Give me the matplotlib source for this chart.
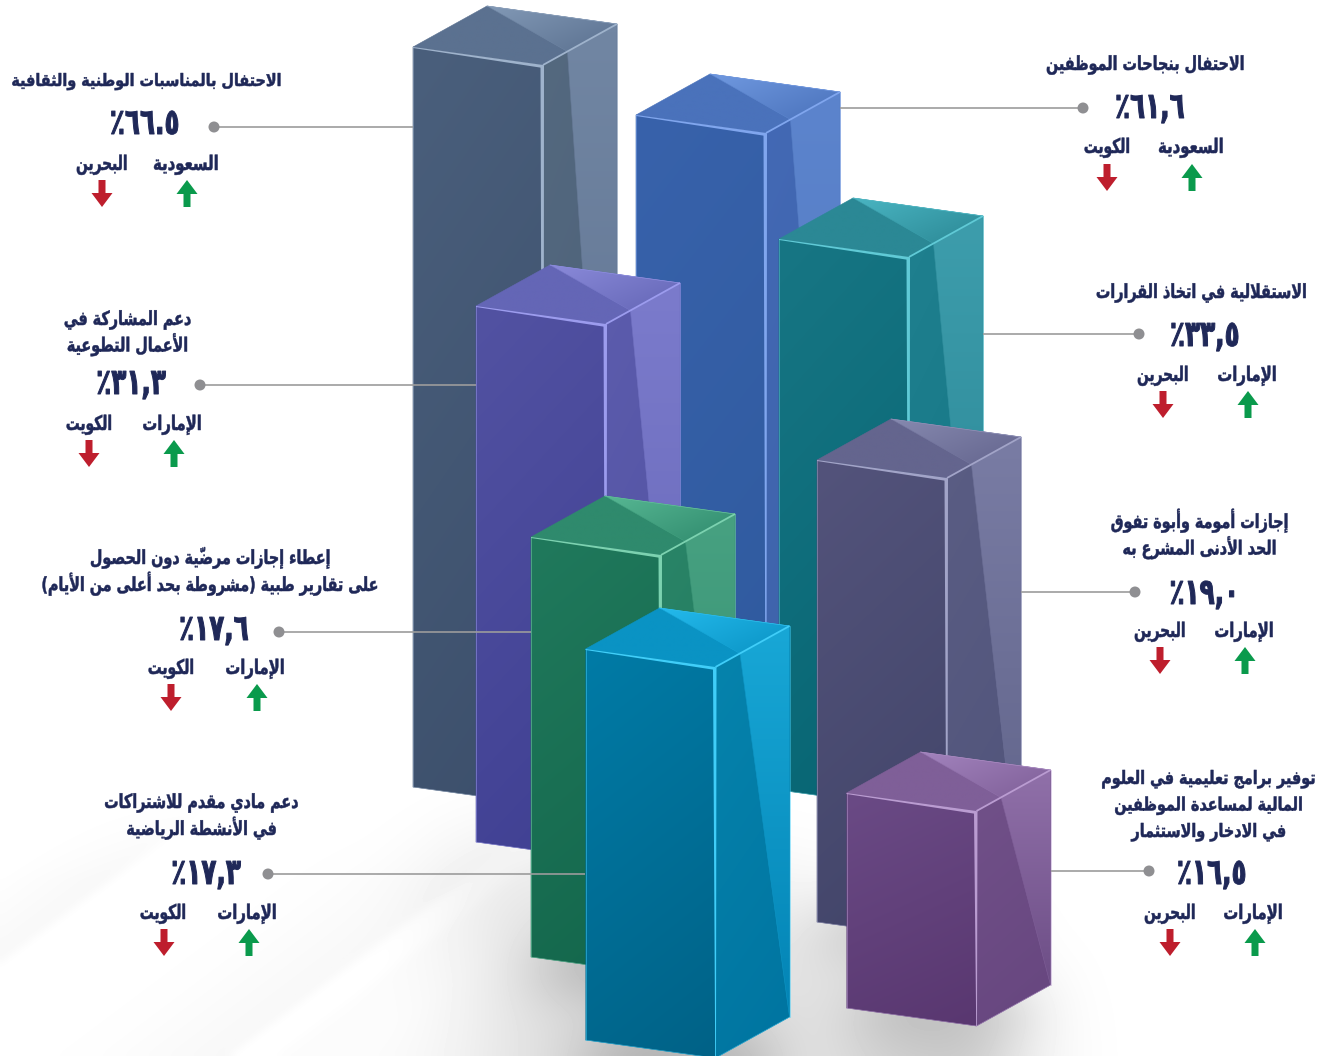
import numpy as np
import matplotlib
matplotlib.use("Agg")
import matplotlib.pyplot as plt
from matplotlib.patches import Polygon, Circle
from matplotlib.path import Path
from matplotlib.colors import to_rgb
from matplotlib.transforms import Affine2D
from matplotlib.patheffects import AbstractPathEffect

# ---------- data ----------
titles = [
    ["الاحتفال بالمناسبات الوطنية والثقافية"],
    ["الاحتفال بنجاحات الموظفين"],
    ["الاستقلالية في اتخاذ القرارات"],
    ["دعم المشاركة في", "الأعمال التطوعية"],
    ["إجازات أمومة وأبوة تفوق", "الحد الأدنى المشرع به"],
    ["إعطاء إجازات مرضيّة دون الحصول", "على تقارير طبية (مشروطة بحد أعلى من الأيام)"],
    ["دعم مادي مقدم للاشتراكات", "في الأنشطة الرياضية"],
    ["توفير برامج تعليمية في العلوم", "المالية لمساعدة الموظفين", "في الادخار والاستثمار"],
]
value_labels = ["٦٦.٥٪", "٦١,٦٪", "٣٣,٥٪", "٣١,٣٪", "١٩,٠٪", "١٧,٦٪", "١٧,٣٪", "١٦,٥٪"]
highest = ["السعودية", "السعودية", "الإمارات", "الإمارات", "الإمارات", "الإمارات", "الإمارات", "الإمارات"]
lowest = ["البحرين", "الكويت", "البحرين", "الكويت", "البحرين", "الكويت", "الكويت", "البحرين"]

# bar geometry, pixels
bar_left = [413, 636, 779, 476, 817, 531, 585.5, 846.5]
bar_top = [47, 115, 239, 306, 460, 537, 649, 793]
bar_height = [740, 650, 551, 536, 462, 420, 391, 215]

# ---------- styles ----------
FRONT_W, FRONT_DY = 130, 18
SIDE_W, SIDE_DY = 74, -41
NAVY = "#1f2858"
palette = [  # front top, front bottom, side top, side bottom, hi top, hi bottom, top, top-light, edge
    ("#4a5f7c", "#3c4f6b", "#54697f", "#4a5e78", "#7186a3", "#5a6c8a", "#5b7190", "#8299b6", "#9fb3cc"),
    ("#3862ab", "#2f5a9e", "#4369b5", "#3d62a8", "#5c84cd", "#4e75bb", "#4a72bb", "#7099e0", "#80a6ee"),
    ("#177684", "#066472", "#1f808f", "#137483", "#3d9dac", "#25808f", "#2b8895", "#4ab5c2", "#60cad6"),
    ("#5252a2", "#3f3f92", "#5c5cad", "#50509f", "#7b7bcc", "#6464b4", "#6466b6", "#8a8ad9", "#9c9cee"),
    ("#53537b", "#414468", "#5a5d84", "#505379", "#797ca4", "#5f6288", "#64658e", "#8689af", "#a2a4c8"),
    ("#20795c", "#13664b", "#2a8568", "#1f7559", "#47a181", "#2f8a6d", "#2f8a6d", "#57b793", "#7cd2b0"),
    ("#007ba6", "#006287", "#0684ad", "#0074a0", "#18a7d6", "#0384b5", "#0a93c4", "#24baec", "#40cef9"),
    ("#6a4a85", "#593770", "#715189", "#67467f", "#9070a9", "#6d4e86", "#7f5f98", "#a283bd", "#ba9cd1"),
]
# per block: title centre x, first-line baseline, line spacing, value centre x, value baseline,
# dot x, dot y, line end x, high label x, low label x, label baseline, high arrow x, low arrow x, arrow top y
layout = [
    (147, 86, 0, 145, 134, 214, 127, 413, 186, 102, 170, 187, 102, 180),
    (1146, 70, 0, 1150, 118, 1083, 108, 840, 1191, 1107, 153, 1192, 1107, 164),
    (1202, 298, 0, 1205, 346, 1139, 334, 983, 1247, 1163, 381, 1248, 1163, 391),
    (128, 325, 26.5, 131, 394, 200, 385, 476, 172, 89, 430, 174, 89, 440),
    (1200, 528, 26.5, 1205, 604, 1135, 592, 1021, 1244, 1160, 637, 1245, 1160, 647),
    (211, 564, 27, 214, 640, 279, 632, 531, 255, 171, 674, 257, 171, 684),
    (202, 808, 27, 206, 884, 268, 874, 585, 247, 163, 919, 249, 164, 929),
    (1209, 784, 26.5, 1212, 884, 1149, 871, 1051, 1253, 1170, 919, 1255, 1170, 929),
]
# title font size and narrowing per block; blocks 1 and 8 sit close to the figure edge
title_size = [12.3, 14, 14, 14, 14, 14, 14, 13.3]
title_narrow = [0.935, 0.82, 0.82, 0.82, 0.82, 0.82, 0.82, 0.865]

# ---------- Arabic shaping: matplotlib does no joining or right-to-left layout ----------
_seq = [("ء",1),("آ",2),("أ",2),("ؤ",2),("إ",2),("ئ",4),("ا",2),("ب",4),("ة",2),("ت",4),("ث",4),
        ("ج",4),("ح",4),("خ",4),("د",2),("ذ",2),("ر",2),("ز",2),("س",4),("ش",4),("ص",4),("ض",4),
        ("ط",4),("ظ",4),("ع",4),("غ",4),("ف",4),("ق",4),("ك",4),("ل",4),("م",4),("ن",4),("ه",4),
        ("و",2),("ى",2),("ي",4)]
FORMS, _c = {}, 0xFE80
for _ch, _n in _seq:
    FORMS[_ch] = [chr(_c + i) for i in range(_n)]
    _c += _n
LAM_ALEF = {"آ": 0xFEF5, "أ": 0xFEF7, "إ": 0xFEF9, "ا": 0xFEFB}
MARKS = "\u064B\u064C\u064D\u064E\u064F\u0650\u0651\u0652"
MIRROR = {"(": ")", ")": "("}
DIGITS = "٠١٢٣٤٥٦٧٨٩.,"


def shape(text):
    units = []
    i = 0
    while i < len(text):
        ch = text[i]
        if ch in MARKS and units:
            units[-1][1] += ch
        elif ch == "ل" and i + 1 < len(text) and text[i + 1] in LAM_ALEF:
            units.append(["LA" + text[i + 1], ""])
            i += 1
        else:
            units.append([ch, ""])
        i += 1
    out = []
    for k, (ch, mark) in enumerate(units):
        prev = units[k - 1][0] if k else None
        nxt = units[k + 1][0] if k + 1 < len(units) else None
        joins_prev = prev in FORMS and len(FORMS[prev]) == 4
        if ch.startswith("LA"):
            g = chr(LAM_ALEF[ch[2]] + (1 if joins_prev else 0))
        elif ch in FORMS:
            f = FORMS[ch]
            joins_next = len(f) == 4 and (nxt in FORMS and nxt != "ء" or (nxt or "").startswith("LA"))
            if len(f) == 1:
                g = f[0]
            elif len(f) == 2:
                g = f[1] if joins_prev else f[0]
            else:
                g = f[3] if joins_prev and joins_next else f[1] if joins_prev else f[2] if joins_next else f[0]
        else:
            g = MIRROR.get(ch, ch)
        out.append(g + mark)
    vis, run = [], []
    for u in reversed(out):
        if u in DIGITS:
            run.insert(0, u)
        else:
            vis.extend(run)
            run = []
            vis.append(u)
    vis.extend(run)
    return "".join(vis)


class Squeeze(AbstractPathEffect):
    """Narrow the text about its centre and thicken its strokes, closer to the reference's heavy narrow face."""

    def __init__(self, sx, lw):
        super().__init__()
        self.sx, self.lw = sx, lw

    def draw_path(self, renderer, gc, tpath, affine, rgbFace=None):
        ext = tpath.get_extents()
        cx = (ext.x0 + ext.x1) / 2
        t = Affine2D().translate(-cx, 0).scale(self.sx, 1).translate(cx, 0) + affine
        gc0 = renderer.new_gc()
        gc0.copy_properties(gc)
        gc0.set_linewidth(self.lw)
        gc0.set_foreground(rgbFace)
        renderer.draw_path(gc0, tpath, t, rgbFace)
        gc0.restore()


# ---------- figure ----------
W, H = 1335, 1056
fig = plt.figure(figsize=(W / 100, H / 100), dpi=100, facecolor="white")
ax = fig.add_axes([0, 0, 1, 1])
ax.set_xlim(0, W)
ax.set_ylim(H, 0)
ax.axis("off")


def corners(i):
    x, y, h = bar_left[i], bar_top[i], bar_height[i]
    fl = np.array([x, y], float)
    fr = fl + [FRONT_W, FRONT_DY]
    r = fr + [SIDE_W, SIDE_DY]
    b = fl + [SIDE_W, SIDE_DY]
    return fl, fr, r, b, np.array([0, h], float)


# ---------- background: faint stripes and blurred floor shadow ----------
S = 3
gx, gy = np.meshgrid(np.arange(0, W, S) + S / 2, np.arange(0, H, S) + S / 2)
pts = np.c_[gx.ravel(), gy.ravel()]


def blur(a, r):
    for _ in range(3):
        k = np.ones(2 * r + 1) / (2 * r + 1)
        a = np.apply_along_axis(lambda v: np.convolve(np.pad(v, r, mode="edge"), k, "valid"), 0, a)
        a = np.apply_along_axis(lambda v: np.convolve(np.pad(v, r, mode="edge"), k, "valid"), 1, a)
    return a


def mask(poly):
    return Path(poly).contains_points(pts).reshape(gx.shape).astype(float)


shadow = np.zeros(gx.shape)
for i in [4, 5, 6, 7]:
    fl, fr, r, b, d = corners(i)
    fp = np.array([fl + d, fr + d, r + d, b + d])
    shadow = np.maximum(shadow, mask(fp + [-14, 16]))
    shadow = np.maximum(shadow, mask(fp + [0, 26]))
shadow = blur(shadow, 8)
wide = blur(mask([(460, 850), (800, 900), (1040, 1000), (1010, 1100), (510, 1100)]), 16)
s = 0.75 * gx + gy
stripes = np.zeros(gx.shape)
stripes += 0.03 * ((s > 870) & (s < 963)) * np.clip((s - 870) / 90, 0, 1)
stripes += 0.03 * ((s > 1096) & (s < 1228)) * np.clip((s - 1096) / 130, 0.2, 1)
stripes += 0.04 * (s > 1262) * np.clip((s - 1262) / 200, 0.3, 1)
stripes = blur(stripes, 1) * np.clip((700 - gx) / 260, 0, 1) * np.clip((gy - 790) / 90, 0, 1)
bg = np.clip(1 - 0.18 * shadow - 0.12 * wide - stripes, 0, 1)
ax.imshow(bg, extent=(0, W, H, 0), cmap="gray", vmin=0, vmax=1, aspect="auto",
          interpolation="bilinear", zorder=0)


def grad_poly(poly, c0, c1, direction=(0.25, 1.0), zorder=2):
    poly = np.asarray(poly, float)
    x0, y0 = poly.min(0)
    x1, y1 = poly.max(0)
    yy, xx = np.mgrid[0:1:48j, 0:1:48j]
    t = direction[0] * xx + direction[1] * yy
    t = (t - t.min()) / (t.max() - t.min())
    a, b = np.array(to_rgb(c0)), np.array(to_rgb(c1))
    img = a[None, None] * (1 - t[..., None]) + b[None, None] * t[..., None]
    im = ax.imshow(img, extent=(x0, x1, y1, y0), aspect="auto", interpolation="bilinear", zorder=zorder)
    im.set_clip_path(Polygon(poly, transform=ax.transData))
    ax.add_patch(Polygon(poly, closed=True, fill=False, ec=tuple((a + b) / 2), lw=0.4, zorder=zorder))


def draw_bar(i, z):
    c = palette[i]
    fl, fr, r, b, d = corners(i)
    grad_poly([fl, fr, fr + d, fl + d], c[0], c[1], zorder=z)
    grad_poly([fr, r, r + d, fr + d], c[2], c[3], zorder=z)
    a = fr + 0.33 * (r - fr)
    grad_poly([a, r, r + d], c[4], c[5], direction=(0, 1), zorder=z)
    grad_poly([fl, b, r, fr], c[6], c[6], zorder=z)
    grad_poly([b, r, a], c[7], c[6], direction=(0.6, 0.5), zorder=z)
    e = c[8]
    ax.add_patch(Polygon([fl, fr, fr + [0, 3], fl + [0, 1]], closed=True, fc=e, ec="none", zorder=z))
    ax.add_patch(Polygon([fr + [-2.5, 1], fr + [1, 0], fr + [0.5, d[1]], fr + [-0.3, d[1]]], closed=True, fc=e, ec="none", zorder=z))
    ax.plot(*zip(fr, r), color=e, lw=1.3, zorder=z, solid_capstyle="butt")
    ax.plot(*zip(fl, fl + d), color=e, lw=0.5, zorder=z, alpha=0.7)
    ax.plot(*zip(r, r + d), color=e, lw=0.5, zorder=z, alpha=0.7)
    ax.plot(*zip(b, r), color=e, lw=0.5, zorder=z, alpha=0.7)
    ax.plot(*zip(fl + d, fr + d, r + d), color=e, lw=0.4, zorder=z, alpha=0.6)


for z, i in enumerate([0, 1, 2, 3, 4, 5, 6, 7]):
    draw_bar(i, 2 + z)


# ---------- labels ----------
def atext(x, y, s, size, sx, lw):
    t = ax.text(x, y, shape(s), ha="center", va="baseline", fontsize=size, color=NAVY,
                family="DejaVu Sans", weight="bold", stretch="condensed", zorder=30)
    t.set_path_effects([Squeeze(sx, lw)])


def arrow(x, top, up, color):
    hw, sw, h, hh = 10.5, 3.5, 27, 14
    if up:
        poly = [(x, top), (x + hw, top + hh), (x + sw, top + hh), (x + sw, top + h),
                (x - sw, top + h), (x - sw, top + hh), (x - hw, top + hh)]
    else:
        poly = [(x, top + h), (x + hw, top + h - hh), (x + sw, top + h - hh), (x + sw, top),
                (x - sw, top), (x - sw, top + h - hh), (x - hw, top + h - hh)]
    ax.add_patch(Polygon(poly, closed=True, fc=color, ec="none", zorder=30))


for k in range(8):
    tx, ty, dy, vx, vy, dx, dy2, lx, hx, lox, ly, hax, lax, at = layout[k]
    for j, line in enumerate(titles[k]):
        atext(tx, ty + j * dy, line, title_size[k], title_narrow[k], 0.35)
    atext(vx, vy, value_labels[k], 26, 0.76, 0.7)
    ax.plot([dx, lx], [dy2, dy2], color="#9c9c9c", lw=1.2, zorder=25, solid_capstyle="butt")
    ax.add_patch(Circle((dx, dy2), 5.5, fc="#8f8f92", ec="none", zorder=26))
    atext(hx, ly, highest[k], 14.5, 0.82, 0.35)
    atext(lox, ly, lowest[k], 14.5, 0.76, 0.35)
    arrow(hax, at, True, "#0a9a4c")
    arrow(lax, at, False, "#be1e2d")

fig.savefig("out.png", dpi=100)
